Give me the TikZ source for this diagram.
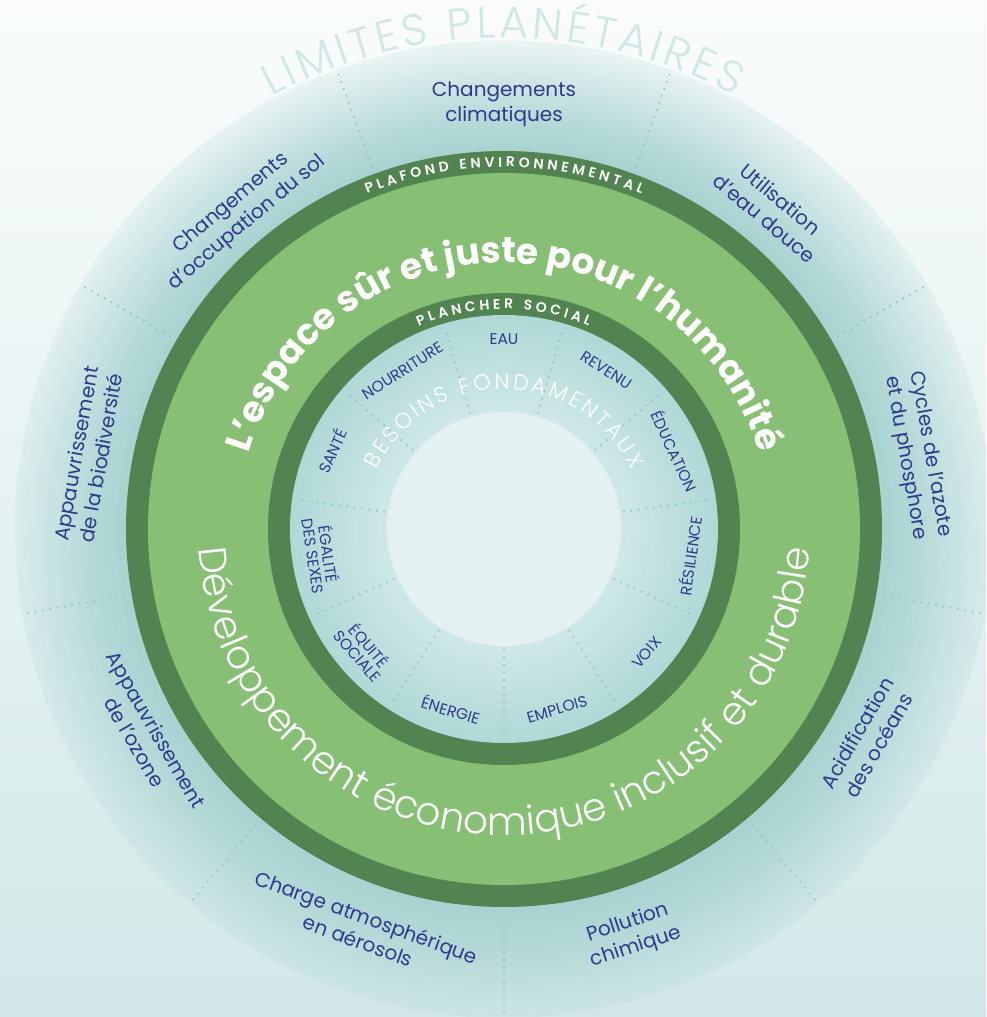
\documentclass[tikz,border=0pt]{standalone}
\usepackage{fontspec}
\setmainfont{Poppins}
\newfontfamily\poplight{Poppins Light}
\newfontfamily\popsemi{Poppins SemiBold}
\usetikzlibrary{decorations.text,fadings}
\definecolor{bgtop}{HTML}{FAFCFC}
\definecolor{bgbot}{HTML}{D2E8E8}
\definecolor{ringteal}{HTML}{A8D3D1}
\definecolor{dkgreen}{HTML}{528451}
\definecolor{ltgreen}{HTML}{87BF74}
\definecolor{soclight}{HTML}{CFE8E7}
\definecolor{socdark}{HTML}{AFD8D6}
\definecolor{coreclr}{HTML}{E3F1F1}
\definecolor{navy}{HTML}{2E3A8C}
\definecolor{limclr}{HTML}{CFE7E5}
\definecolor{dotclr}{HTML}{86C8C5}
\pgfdeclareradialshading{ringfadeshading}{\pgfpointorigin}{color(0bp)=(white); color(19.3bp)=(white); color(21bp)=(black!20); color(25bp)=(black!85); color(50bp)=(black)}
\pgfdeclarefading{ringfade}{\pgfuseshading{ringfadeshading}}
\pgfdeclareradialshading{socshade}{\pgfpointorigin}{color(0bp)=(soclight); color(13.67bp)=(soclight); color(25bp)=(socdark); color(50bp)=(socdark)}
\begin{document}
\begin{tikzpicture}[x=1pt,y=1pt,
  pblabel/.style={text=navy, align=center, font=\fontsize{20}{25}\selectfont, inner sep=0pt},
  sflabel/.style={text=navy, align=center, font=\fontsize{15.5}{15}\selectfont, inner sep=0pt},
  dotline/.style={dotclr, line width=2.2pt, line cap=round, dash pattern=on 0pt off 7.5pt}]
\useasboundingbox (-504,-488) rectangle (482,529);
\clip (-504,-488) rectangle (482,529);
\shade[top color=bgtop, bottom color=bgbot] (-504,-488) rectangle (482,529);
\fill[ringteal, path fading=ringfade] (0,0) circle (489);
\foreach \a in {30,70,...,350} \draw[dotline] (\a:386) -- (\a:486);
\fill[dkgreen] (0,0) circle (378);
\fill[ltgreen] (0,0) circle (356);
\fill[dkgreen] (0,0) circle (236);
\shade[shading=socshade] (0,0) circle (214);
\foreach \k in {0,...,10} \draw[dotline] ({73.636+32.727*\k}:121) -- ({73.636+32.727*\k}:211);
\fill[coreclr] (0,0) circle (117);
% arc texts
\path[decorate, decoration={text along path, text color=limclr, text align={fit to path},
  text={|\poplight\fontsize{44}{44}\selectfont|LIMITES PLANÉTAIRES}}]
  (118.3:491) arc[start angle=118.3, end angle=62, radius=491];
\path[decorate, decoration={text along path, text color=white, text align={fit to path},
  text={|\popsemi\fontsize{14}{14}\selectfont|PLAFOND ENVIRONNEMENTAL}}]
  (112.2:362) arc[start angle=112.2, end angle=67.7, radius=362];
\path[decorate, decoration={text along path, text color=white, text align={fit to path},
  text={|\popsemi\fontsize{14}{14}\selectfont|PLANCHER SOCIAL}}]
  (112.8:220) arc[start angle=112.8, end angle=67.3, radius=220];
\path[decorate, decoration={text along path, text color=white, text align={fit to path},
  text={|\poplight\fontsize{22}{22}\selectfont|BESOINS FONDAMENTAUX}}]
  (155:140) arc[start angle=155, end angle=25, radius=140];
\path[decorate, decoration={text along path, text color=white, text align=center,
  text={|\bfseries\fontsize{36}{36}\selectfont|L’espace sûr et juste pour l’humanité}}]
  (178:266) arc[start angle=178, end angle=2, radius=266];
\path[decorate, decoration={text along path, text color=white, text align=center,
  text={|\poplight\fontsize{39}{39}\selectfont|Développement économique inclusif et durable}}]
  (181:306) arc[start angle=181, end angle=359, radius=306];
% planetary boundaries
\node[pblabel] (pb1) at (90:425) {Changements\\climatiques};
\node[pblabel, rotate=40] (pb2) at (130:412) {Changements\\d'occupation du sol};
\node[pblabel, rotate=80] (pb3) at (170:422) {Appauvrissement\\de la biodiversité};
\node[pblabel, rotate=-60] (pb4) at (210:414) {Appauvrissement\\de l'ozone};
\node[pblabel, rotate=-20] (pb5) at (250.5:424) {Charge atmosphérique\\en aérosols};
\node[pblabel, rotate=18] (pb6) at (287.5:426) {Pollution\\chimique};
\node[pblabel, rotate=60] (pb7) at (330:420) {Acidification\\des océans};
\node[pblabel, rotate=-80] (pb8) at (10:420) {Cycles de l'azote\\et du phosphore};
\node[pblabel, rotate=-40] (pb9) at (50:418) {Utilisation\\d'eau douce};
% social foundation
\node[sflabel] (sf1) at (90:190) {EAU};
\node[sflabel, rotate=-32.7] (sf2) at (57.3:189) {REVENU};
\node[sflabel, rotate=-65.5] (sf3) at (24.5:188) {ÉDUCATION};
\node[sflabel, rotate=81.8] (sf4) at (351.8:188) {RÉSILIENCE};
\node[sflabel, rotate=49.1] (sf5) at (319.1:189) {VOIX};
\node[sflabel, rotate=16.4] (sf6) at (286.4:188) {EMPLOIS};
\node[sflabel, rotate=-16.4] (sf7) at (253.6:188) {ÉNERGIE};
\node[sflabel, rotate=-49.1] (sf8) at (220.9:185) {ÉQUITÉ\\SOCIALE};
\node[sflabel, rotate=-81.8] (sf9) at (188.2:184) {ÉGALITÉ\\DES SEXES};
\node[sflabel, rotate=65.5] (sf10) at (155.5:189) {SANTÉ};
\node[sflabel, rotate=32.7] (sf11) at (122.7:188) {NOURRITURE};
\end{tikzpicture}
\end{document}
